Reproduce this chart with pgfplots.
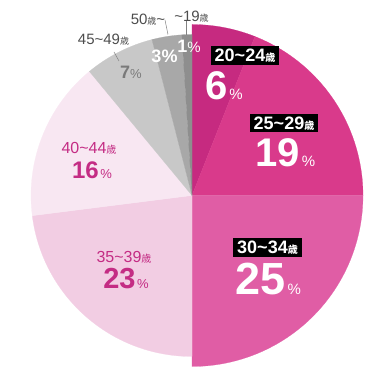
\documentclass[border=0pt]{standalone}
\usepackage{pgfplots}
\usepackage{pgfplotstable}
\pgfplotsset{compat=1.18}
\usepackage{fontspec}
\setmainfont{Liberation Sans}
\newfontfamily\jp{Noto Sans CJK JP}

\definecolor{slice0}{HTML}{C62A80}
\definecolor{slice1}{HTML}{D93A8B}
\definecolor{slice2}{HTML}{E05DA5}
\definecolor{slice3}{HTML}{F2CDE3}
\definecolor{slice4}{HTML}{F8E7F2}
\definecolor{slice5}{HTML}{C8C8C8}
\definecolor{slice6}{HTML}{A8A8A8}
\definecolor{slice7}{HTML}{8E8E8E}
\definecolor{mag}{HTML}{C42C84}
\definecolor{lbl}{HTML}{4D4D4D}
\definecolor{pgray}{HTML}{7A7A7A}

% age group, share (%), outer radius (pt)
\pgfplotstableread{
idx value radius
0 6 171
1 19 171
2 25 171
3 23 161
4 16 161
5 7 161
6 3 161
7 1 161
}\piedata

\newcommand{\sai}[1]{{\jp\fontsize{#1}{#1}\selectfont 歳}}
\newcommand{\tld}{\textasciitilde}

\begin{document}
\begin{tikzpicture}
\gdef\curang{90}
\foreach \i in {0,...,7}{
  \pgfplotstablegetelem{\i}{value}\of\piedata \let\v\pgfplotsretval
  \pgfplotstablegetelem{\i}{radius}\of\piedata \let\r\pgfplotsretval
  \pgfmathsetmacro\endang{\curang-3.6*\v}
  \expandafter\xdef\csname sa\i\endcsname{\curang}
  \expandafter\xdef\csname ea\i\endcsname{\endang}
  \expandafter\xdef\csname rr\i\endcsname{\r}
  \xdef\curang{\endang}
}
\begin{axis}[scale only axis, width=377pt, height=377pt,
  xmin=-192, xmax=185, ymin=-181.5, ymax=195.5,
  hide axis, clip=false]
\path (axis cs:-192,-181.5) rectangle (axis cs:185,195.5);
\pgfplotsinvokeforeach{0,...,7}{
  \fill[slice#1, draw=slice#1, line width=0.2pt] (axis cs:0,0) -- ++(\csname sa#1\endcsname:\csname rr#1\endcsname pt)
    arc[start angle=\csname sa#1\endcsname, end angle=\csname ea#1\endcsname, radius=\csname rr#1\endcsname pt] -- cycle;
}
% leader lines
\draw[lbl!70, line width=0.5pt] (axis cs:-5.3,175.5) -- (axis cs:-5.3,160.5);
\draw[lbl!70, line width=0.5pt] (axis cs:-27,175.5) -- (axis cs:-24,161);
\draw[lbl!70, line width=0.5pt] (axis cs:-78,143.5) -- (axis cs:-73,134.5);
% outer gray labels
\node[text=lbl, inner sep=0pt, font=\fontsize{15}{15}\selectfont] at (axis cs:-0.5,178.5) {\tld19\sai{9}};
\node[text=lbl, inner sep=0pt, font=\fontsize{15}{15}\selectfont] at (axis cs:-44,175.5) {50\sai{9}\tld};
\node[text=lbl, inner sep=0pt, font=\fontsize{15}{15}\selectfont] at (axis cs:-88.5,155.5) {45\tld49\sai{9}};
% small percentages
\node[text=pgray, inner sep=0pt] at (axis cs:-61,123) {{\bfseries\fontsize{18}{18}\selectfont 7}{\fontsize{13}{13}\selectfont\%}};
\node[text=white, inner sep=0pt] at (axis cs:-27.5,139) {{\bfseries\fontsize{18}{18}\selectfont 3\%}};
\node[text=white, inner sep=0pt] at (axis cs:-3,149) {{\bfseries\fontsize{18}{18}\selectfont 1}{\fontsize{15}{15}\selectfont\%}};
% boxed labels
\node[fill=black, text=white, inner xsep=4pt, inner ysep=0pt, minimum height=19pt, font=\bfseries\fontsize{18}{18}\selectfont] at (axis cs:53,140) {20\tld24\sai{10}};
\node[fill=black, text=white, inner xsep=4pt, inner ysep=0pt, minimum height=18pt, font=\bfseries\fontsize{18}{18}\selectfont] at (axis cs:92,72) {25\tld29\sai{10}};
\node[fill=black, text=white, inner xsep=4pt, inner ysep=0pt, minimum height=19pt, font=\bfseries\fontsize{18}{18}\selectfont] at (axis cs:75.5,-52) {30\tld34\sai{10}};
% big percentages
\node[text=white, inner sep=0pt] at (axis cs:32,109.5) {{\bfseries\fontsize{40}{40}\selectfont 6}\,{\fontsize{15}{15}\selectfont\%}};
\node[text=white, inner sep=0pt] at (axis cs:93.5,43) {{\bfseries\fontsize{40}{40}\selectfont 19}\,{\fontsize{15}{15}\selectfont\%}};
\node[text=white, inner sep=0pt] at (axis cs:76.5,-84) {{\bfseries\fontsize{45}{45}\selectfont 25}\,{\fontsize{15}{15}\selectfont\%}};
% light pink labels
\node[text=mag, inner sep=0pt, font=\fontsize{16}{16}\selectfont] at (axis cs:-68,-62) {35\tld39\sai{10}};
\node[text=mag, inner sep=0pt] at (axis cs:-66,-83) {{\bfseries\fontsize{29}{29}\selectfont 23}\,{\fontsize{13}{13}\selectfont\%}};
\node[text=mag, inner sep=0pt, font=\fontsize{16}{16}\selectfont] at (axis cs:-103,47.5) {40\tld44\sai{10}};
\node[text=mag, inner sep=0pt] at (axis cs:-100,25) {{\bfseries\fontsize{24}{24}\selectfont 16}\,{\fontsize{13}{13}\selectfont\%}};
\end{axis}
\end{tikzpicture}
\end{document}
